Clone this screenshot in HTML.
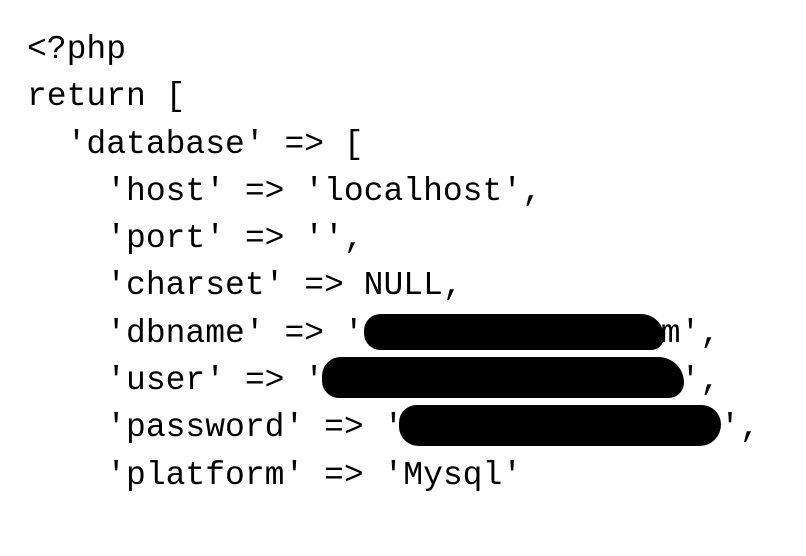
<!DOCTYPE html>
<html><head><meta charset="utf-8"><style>
html,body{margin:0;padding:0;background:#fff;}
body{width:806px;height:556px;position:relative;overflow:hidden;}
pre{position:absolute;left:27px;top:26px;margin:0;font-family:"Liberation Mono",monospace;font-size:33px;line-height:47.3px;color:#000;}
.b{position:absolute;background:#000;}
</style></head><body>
<pre>&lt;?php
return [
  'database' =&gt; [
    'host' =&gt; 'localhost',
    'port' =&gt; '',
    'charset' =&gt; NULL,
    'dbname' =&gt; '               m',
    'user' =&gt; '                  ',
    'password' =&gt; '                ',
    'platform' =&gt; 'Mysql'</pre>
<div class="b" style="left:364px;top:314px;width:300px;height:36px;border-radius:18px 25px 14px 18px"></div>
<div class="b" style="left:322px;top:357px;width:362px;height:41px;border-radius:22px 30px 18px 20px"></div>
<div class="b" style="left:399px;top:405px;width:322px;height:41px;border-radius:18px 20px 22px 20px"></div>
</body></html>
